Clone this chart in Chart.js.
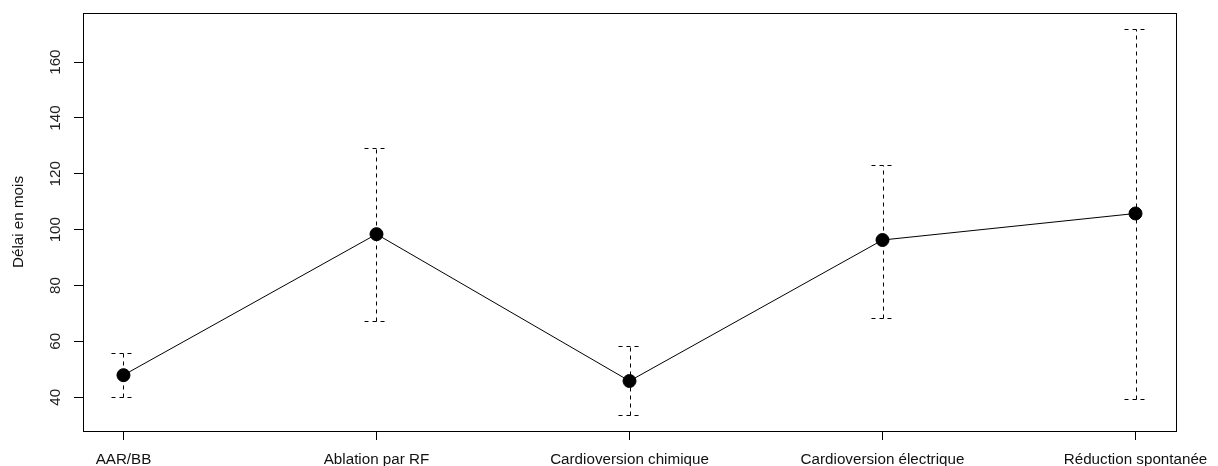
<!DOCTYPE html>
<html>
<head>
<meta charset="utf-8">
<script src="https://cdn.jsdelivr.net/npm/chart.js@4/dist/chart.umd.min.js"></script>
<style>
html,body{margin:0;padding:0;background:#fff;}
#wrap{width:1218px;height:466px;position:relative;}
</style>
</head>
<body>
<div id="wrap"><canvas id="c" width="1218" height="466"></canvas></div>
<script>
const categories = ["AAR/BB", "Ablation par RF", "Cardioversion chimique", "Cardioversion électrique", "Réduction spontanée"];
const means = [47.9, 98.4, 45.8, 96.3, 105.8];
const upper = [56.0, 129.4, 58.3, 123.2, 171.8];
const lower = [40.0, 67.3, 33.7, 68.2, 39.2];
const yTicks = [40, 60, 80, 100, 120, 140, 160];
const yTitle = "Délai en mois";

const FONT = "'Liberation Sans', Arial, sans-serif";
const FSIZE = 15.2;

const errorBars = {
  id: 'errorBars',
  afterDatasetsDraw(chart) {
    const ctx = chart.ctx, xs = chart.scales.x, ys = chart.scales.y;
    ctx.save();
    ctx.strokeStyle = '#000';
    ctx.lineWidth = 1;
    ctx.setLineDash([4, 4]);
    const cap = 12;
    categories.forEach((c, i) => {
      const x = Math.round(xs.getPixelForValue(i)) + 0.5;
      const yt = Math.round(ys.getPixelForValue(upper[i])) + 0.5;
      const yb = Math.round(ys.getPixelForValue(lower[i])) + 0.5;
      ctx.beginPath();
      ctx.moveTo(x, yb); ctx.lineTo(x, yt);
      ctx.moveTo(x - cap, yt); ctx.lineTo(x + cap, yt);
      ctx.moveTo(x - cap, yb); ctx.lineTo(x + cap, yb);
      ctx.stroke();
    });
    ctx.restore();
  },
  afterDraw(chart) {
    const a = chart.chartArea, ctx = chart.ctx;
    ctx.save();
    ctx.strokeStyle = '#000';
    ctx.lineWidth = 1;
    ctx.strokeRect(Math.round(a.left) + 0.5, Math.round(a.top) + 0.5, Math.round(a.right - a.left), Math.round(a.bottom - a.top));
    ctx.restore();
  }
};

new Chart(document.getElementById('c'), {
  type: 'line',
  data: {
    datasets: [{
      data: means.map((v, i) => ({x: i, y: v})),
      borderColor: '#000',
      borderWidth: 1,
      backgroundColor: '#000',
      pointRadius: 6.5,
      pointBorderWidth: 1,
      pointBackgroundColor: '#000',
      pointBorderColor: '#000',
      tension: 0
    }]
  },
  options: {
    responsive: false,
    animation: false,
    devicePixelRatio: 1,
    layout: {padding: {top: 13, right: 42, left: 0, bottom: 0}},
    plugins: {legend: {display: false}, tooltip: {enabled: false}},
    scales: {
      x: {
        type: 'linear',
        min: -0.16,
        max: 4.16,
        afterBuildTicks: s => { s.ticks = categories.map((c, i) => ({value: i})); },
        afterFit: s => { s.height = 35; s.paddingLeft = 0; s.paddingRight = 0; },
        grid: {drawOnChartArea: false, tickLength: 9, color: '#000'},
        border: {display: true, color: '#000'},
        ticks: {
          callback: v => categories[v],
          font: {family: FONT, size: FSIZE},
          color: '#111',
          padding: 11,
          maxRotation: 0,
          autoSkip: false
        }
      },
      y: {
        type: 'linear',
        min: 27.9,
        max: 177.6,
        afterBuildTicks: s => { s.ticks = yTicks.map(v => ({value: v})); },
        afterFit: s => { s.width = 83; s.paddingTop = 0; s.paddingBottom = 0; },
        grid: {drawOnChartArea: false, tickLength: 9, color: '#000'},
        border: {display: true, color: '#000'},
        title: {display: true, text: yTitle, font: {family: FONT, size: FSIZE}, color: '#111', padding: {top: 10, bottom: 0}},
        ticks: {
          font: {family: FONT, size: FSIZE},
          color: '#222',
          minRotation: 90,
          maxRotation: 90,
          crossAlign: 'center',
          padding: 5.5
        }
      }
    }
  },
  plugins: [errorBars]
});
</script>
</body>
</html>
